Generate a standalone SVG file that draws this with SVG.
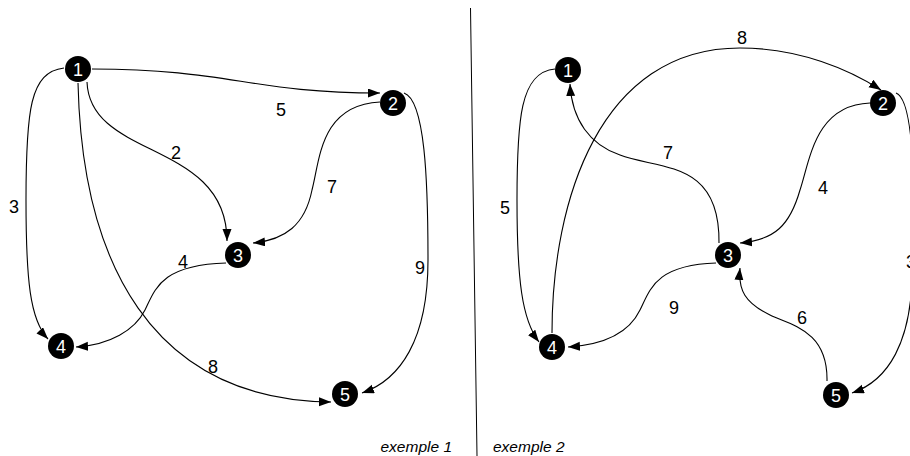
<svg xmlns="http://www.w3.org/2000/svg" width="910" height="456" viewBox="0 0 910 456">
<style>
.n circle{fill:#000}
.n text{fill:#fff;font-family:"Liberation Sans",Arial,sans-serif;font-size:18px;text-anchor:middle}
.e{fill:none;stroke:#000;stroke-width:1.1;marker-end:url(#ah)}
.lbl{font-family:"Liberation Sans",Arial,sans-serif;font-size:18px;fill:#000;text-anchor:middle}
.cap{font-family:"Liberation Sans",Arial,sans-serif;font-size:15.5px;font-style:italic;fill:#000}
</style>
<defs>
<marker id="ah" markerUnits="userSpaceOnUse" markerWidth="13" markerHeight="10" refX="12" refY="4.5" orient="auto">
<path d="M0,0 L12,4.5 L0,9 z" fill="#000"/>
</marker>
</defs>
<line x1="470.5" y1="8" x2="477" y2="456" stroke="#000" stroke-width="1"/>
<g id="connectors">
<path class="e" d="M92,69 C230,69 250,93 380,93"/>
<path class="e" d="M87,82 C90,160 227,140 227,241"/>
<path class="e" d="M64,68 C30,72 26,110 26,200 C26,280 30,320 48,339"/>
<path class="e" d="M78,83 C82,260 150,400 331,402"/>
<path class="e" d="M380,102 C320,105 320,160 312,190 C305,225 285,240 253,243"/>
<path class="e" d="M404,93 C425,100 428,180 428,260 C428,340 400,380 362,393"/>
<path class="e" d="M226,263 C160,265 155,290 145,310 C135,330 110,345 76,347"/>
<path class="e" d="M555,69 C520,72 517,120 517,200 C517,280 522,320 539,342"/>
<path class="e" d="M552,333 C552,200 600,48 740,48 C800,48 850,70 881,90"/>
<path class="e" d="M719,243 C720,160 660,170 620,155 C590,145 572,120 570,84"/>
<path class="e" d="M870,103 C815,105 810,160 800,190 C790,225 775,240 740,243"/>
<path class="e" d="M896,93 C915,100 915,200 912,280 C910,340 890,380 852,393"/>
<path class="e" d="M716,263 C655,265 650,290 640,310 C628,335 600,345 568,347"/>
<path class="e" d="M827,381 C828,330 790,325 770,315 C745,303 738,290 740,268"/>
</g>
<g id="edge-labels">
<text class="lbl" x="281" y="116">5</text>
<text class="lbl" x="176" y="159">2</text>
<text class="lbl" x="332" y="193">7</text>
<text class="lbl" x="14" y="213">3</text>
<text class="lbl" x="183" y="268">4</text>
<text class="lbl" x="420" y="274">9</text>
<text class="lbl" x="213" y="373">8</text>
<text class="lbl" x="742" y="44">8</text>
<text class="lbl" x="668" y="159">7</text>
<text class="lbl" x="823" y="194">4</text>
<text class="lbl" x="505" y="214">5</text>
<text class="lbl" x="674" y="314">9</text>
<text class="lbl" x="802" y="324">6</text>
<text class="lbl" x="911" y="268">3</text>
</g>
<g id="l1" class="n"><circle cx="78" cy="69" r="13"/><text x="78" y="75.5">1</text></g>
<g id="l2" class="n"><circle cx="393" cy="103" r="13"/><text x="393" y="109.5">2</text></g>
<g id="l3" class="n"><circle cx="238" cy="255" r="13"/><text x="238" y="261.5">3</text></g>
<g id="l4" class="n"><circle cx="61" cy="346" r="13"/><text x="61" y="352.5">4</text></g>
<g id="l5" class="n"><circle cx="345" cy="394" r="13"/><text x="345" y="400.5">5</text></g>
<g id="r1" class="n"><circle cx="568" cy="70" r="13"/><text x="568" y="76.5">1</text></g>
<g id="r2" class="n"><circle cx="883" cy="103" r="13"/><text x="883" y="109.5">2</text></g>
<g id="r3" class="n"><circle cx="728" cy="255" r="13"/><text x="728" y="261.5">3</text></g>
<g id="r4" class="n"><circle cx="552" cy="347" r="13"/><text x="552" y="353.5">4</text></g>
<g id="r5" class="n"><circle cx="836" cy="395" r="13"/><text x="836" y="401.5">5</text></g>
<text class="cap" x="452" y="452" text-anchor="end">exemple 1</text>
<text class="cap" x="493" y="452">exemple 2</text>
</svg>
